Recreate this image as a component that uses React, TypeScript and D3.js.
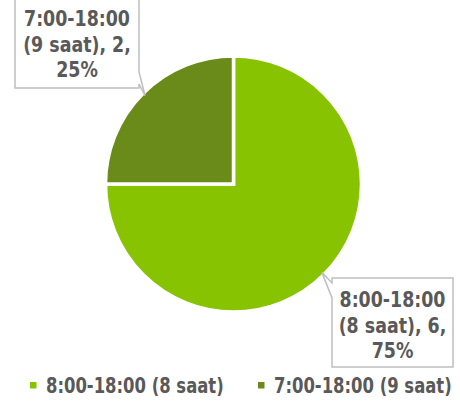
import React from 'react';
import * as d3 from 'd3';

const categories = ['8:00-18:00 (8 saat)', '7:00-18:00 (9 saat)'];
const labelLines = [
  ['8:00-18:00', '(8 saat), 6,'],
  ['7:00-18:00', '(9 saat), 2,'],
];
const values = [6, 2];
const colors = ['#87c300', '#6a8a1a'];

const W = 460;
const H = 405;
const cx = 233.5;
const cy = 184;
const radius = 128;
const font = '"DejaVu Sans Condensed", "Liberation Sans Narrow", sans-serif';
const textColor = '#595959';
const squeeze = 0.87;

// callout boxes and the points where the wedge leaves the box
const boxes = [
  { x: 332, y: 278, w: 121, h: 89, a: [332, 283], b: [332, 298], lineY: 307 },
  { x: 15, y: -5, w: 124, h: 93, a: [139, 72], b: [139, 84], lineY: 26 },
];

export default function App() {
  const pie = d3.pie<number>().sort(null).value((d) => d);
  const arcs = pie(values);
  const arc = d3.arc<d3.PieArcDatum<number>>().innerRadius(0).outerRadius(radius);
  const total = d3.sum(values);

  return (
    <svg
      width={W}
      height={H}
      style={{ position: 'absolute', left: 0, top: 0, background: '#fff' }}
      fontFamily={font}
      fontWeight="bold"
    >
      <g transform={`translate(${cx},${cy})`}>
        {arcs.map((a, i) => (
          <path key={i} d={arc(a) || ''} fill={colors[i]} stroke="#fff" strokeWidth={3.5} />
        ))}
      </g>

      {arcs.map((a, i) => {
        const mid = (a.startAngle + a.endAngle) / 2;
        const tr = radius - 3;
        const tip = [cx + Math.sin(mid) * tr, cy - Math.cos(mid) * tr];
        const bx = boxes[i];
        const x0 = bx.x, y0 = bx.y, x1 = bx.x + bx.w, y1 = bx.y + bx.h;
        let d: string;
        if (i === 0) {
          d = `M${x0},${y0} L${x1},${y0} L${x1},${y1} L${x0},${y1} L${bx.b[0]},${bx.b[1]} L${tip[0]},${tip[1]} L${bx.a[0]},${bx.a[1]} Z`;
        } else {
          d = `M${x0},${y0} L${x1},${y0} L${bx.a[0]},${bx.a[1]} L${tip[0]},${tip[1]} L${bx.b[0]},${bx.b[1]} L${x1},${y1} L${x0},${y1} Z`;
        }
        const pct = Math.round((values[i] / total) * 100);
        const lines = [labelLines[i][0], labelLines[i][1], `${pct}%`];
        return (
          <g key={i}>
            <path d={d} fill="#fff" stroke="#bfbfbf" strokeWidth={1.5} />
            {lines.map((t, j) => (
              <g key={j} transform={`translate(${bx.x + bx.w / 2},${bx.lineY + j * 25.5}) scale(0.88,1)`}>
                <text textAnchor="middle" fontSize={22} fill={textColor}>
                  {t}
                </text>
              </g>
            ))}
          </g>
        );
      })}

      {categories.map((c, i) => {
        const lx = i === 0 ? 30 : 258;
        return (
          <g key={c} transform={`translate(${lx},0)`}>
            <rect x={0} y={382} width={6.5} height={6.5} fill={colors[i]} />
            <g transform={`translate(16,393) scale(${squeeze},1)`}>
              <text fontSize={21} fill={textColor}>
                {c}
              </text>
            </g>
          </g>
        );
      })}
    </svg>
  );
}
